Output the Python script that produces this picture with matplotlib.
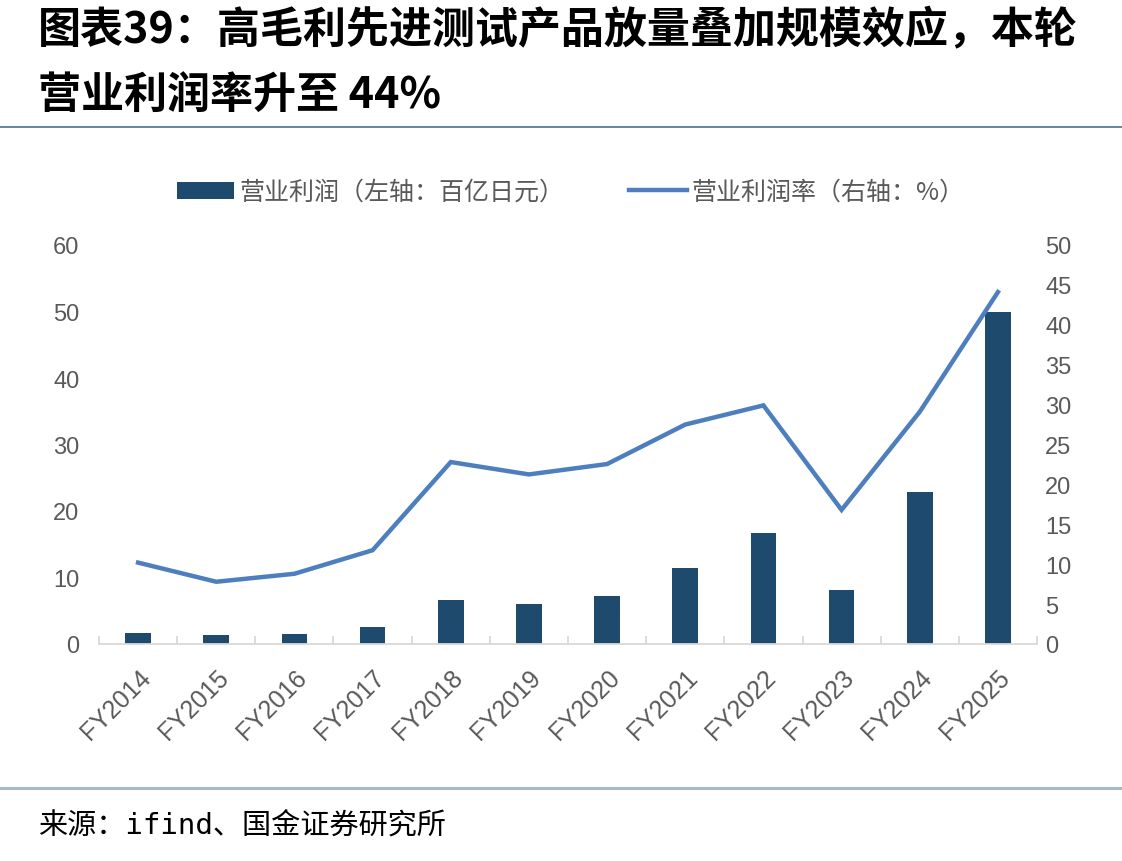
import numpy as np
import matplotlib
matplotlib.use("Agg")
import matplotlib.pyplot as plt
from matplotlib.lines import Line2D
from matplotlib.patches import Patch

plt.rcParams['font.family'] = ['Liberation Sans', 'Noto Sans CJK SC', 'DejaVu Sans']
plt.rcParams['axes.unicode_minus'] = False

# ---- 数据 ----
years = ["FY2014", "FY2015", "FY2016", "FY2017", "FY2018", "FY2019",
         "FY2020", "FY2021", "FY2022", "FY2023", "FY2024", "FY2025"]
op_profit = [1.7, 1.35, 1.55, 2.6, 6.55, 5.95, 7.15, 11.45, 16.75, 8.1, 22.8, 49.9]   # 百亿日元
op_margin = [10.2, 7.8, 8.8, 11.75, 22.8, 21.25, 22.55, 27.5, 29.9, 16.8, 29.1, 44.1]  # %

left_ticks = [0, 10, 20, 30, 40, 50, 60]
right_ticks = [0, 5, 10, 15, 20, 25, 30, 35, 40, 45, 50]

title_text = "图表39：高毛利先进测试产品放量叠加规模效应，本轮\n营业利润率升至 44%"
legend_bar = "营业利润（左轴：百亿日元）"
legend_line = "营业利润率（右轴：%）"
source_text = "来源：ifind、国金证券研究所"

BAR_C = "#1d4a6d"
LINE_C = "#4d7ebd"
TXT_C = "#595959"
AX_C = "#d9d9d9"

W, H = 1122, 862
fig = plt.figure(figsize=(W / 100, H / 100), dpi=100)
ax = fig.add_axes([99 / W, 1 - 645 / H, (1037 - 99) / W, (645 - 246) / H])
ax2 = ax.twinx()

x = np.arange(len(years))
ax.bar(x, op_profit, width=0.33, color=BAR_C, zorder=2)
ax2.plot(x, op_margin, color=LINE_C, lw=3.2, solid_joinstyle='miter', zorder=3)

ax.set_xlim(-0.5, len(years) - 0.5)
ax.set_ylim(0, 60)
ax2.set_ylim(0, 50)
ax.set_yticks(left_ticks)
ax2.set_yticks(right_ticks)

for a in (ax, ax2):
    for s in ("top", "left", "right"):
        a.spines[s].set_visible(False)
    a.spines["bottom"].set_color(AX_C)
    a.spines["bottom"].set_linewidth(1.3)
ax2.spines["bottom"].set_visible(False)

ax.set_xticks(x)
ax.set_xticklabels(years, rotation=45, ha='right', rotation_mode='anchor',
                   fontsize=18, color=TXT_C)
ax.set_xticks(np.arange(-0.5, len(years), 1), minor=True)
ax.tick_params(axis='x', which='major', length=0, pad=15)
ax.tick_params(axis='x', which='minor', length=6, direction='in', color=AX_C, width=1.3)
ax.tick_params(axis='y', length=0, pad=14, labelsize=17, labelcolor=TXT_C)
ax2.tick_params(axis='y', length=0, pad=6, labelsize=17, labelcolor=TXT_C)

handles = [Patch(facecolor=BAR_C, edgecolor='none'),
           Line2D([0], [0], color=LINE_C, lw=3.2)]
fig.legend(handles, [legend_bar, legend_line], loc='center',
           bbox_to_anchor=(571 / W, 1 - 193 / H), ncol=2, frameon=False,
           labelcolor=TXT_C, handlelength=2.3, handleheight=0.65,
           handletextpad=0.2, columnspacing=2.6,
           prop={'family': ['Noto Sans CJK SC', 'DejaVu Sans'], 'size': 18})

fig.text(38 / W, 1 - 62 / H, title_text, fontsize=31, fontweight='bold',
         color='black', va='center', ha='left', linespacing=1.6,
         family=['Noto Sans CJK SC', 'DejaVu Sans'])

fig.add_artist(Line2D([0, 1], [1 - 128 / H] * 2, color="#4a6f8e", lw=1.2))
fig.add_artist(Line2D([0, 1], [1 - 789 / H] * 2, color="#a3b8c9", lw=2.2))

fig.text(38 / W, 1 - 826 / H, source_text, fontsize=21, color='black',
         va='center', ha='left',
         family=['DejaVu Sans Mono', 'Noto Sans CJK SC', 'DejaVu Sans'])

fig.savefig("out.png", dpi=100)
